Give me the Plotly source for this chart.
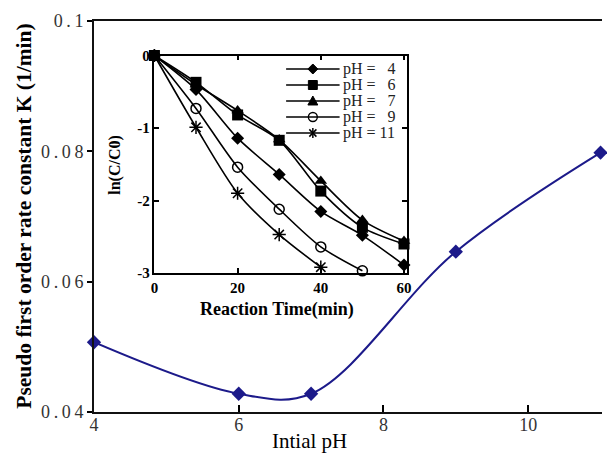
import plotly.graph_objects as go

# Main panel: pseudo first-order rate constant versus initial pH
initial_ph = [4, 6, 7, 9, 11]
rate_k = [0.0507, 0.0428, 0.0428, 0.0646, 0.0798]
k_ticks = [0.04, 0.06, 0.08, 0.1]
k_tick_text = ["0.04", "0.06", "0.08", "0.1"]
ph_ticks = [4, 6, 8, 10]

# Inset: ln(C/C0) versus reaction time for each pH
time_min = [0, 10, 20, 30, 40, 50, 60]
ln_ph4 = [0, -0.47, -1.14, -1.64, -2.15, -2.48, -2.89]
ln_ph6 = [0, -0.37, -0.82, -1.17, -1.87, -2.37, -2.60]
ln_ph7 = [0, -0.40, -0.76, -1.16, -1.73, -2.27, -2.56]
ln_ph9 = [0, -0.73, -1.54, -2.12, -2.64, -2.97]
ln_ph11 = [0, -0.99, -1.90, -2.47, -2.92]
series_names = ["pH = \u00a0\u00a04", "pH = \u00a0\u00a06", "pH = \u00a0\u00a07",
                "pH = \u00a0\u00a09", "pH = 11"]

SERIF = "Liberation Serif, Times New Roman, serif"
NAVY = "#1c1a8a"

W, H = 607, 457
ML, MR, MT, MB = 94, 0, 21, 45
PW, PH = W - ML - MR, H - MT - MB


def fx(px):
    """Pixel column -> paper x."""
    return (px - ML) / PW


def fy(py):
    """Pixel row -> paper y."""
    return (H - MB - py) / PH


def spaced(label):
    return "\u2009".join(label)


fig = go.Figure()

fig.add_trace(go.Scatter(
    x=initial_ph, y=rate_k, mode="lines+markers",
    line=dict(color=NAVY, width=2, shape="spline", smoothing=1.0),
    marker=dict(symbol="diamond", size=11, color=NAVY),
    cliponaxis=False, showlegend=False, xaxis="x", yaxis="y",
))

inset_series = [
    (ln_ph4, dict(symbol="diamond", size=10, color="black")),
    (ln_ph6, dict(symbol="square", size=11, color="black")),
    (ln_ph7, dict(symbol="triangle-up", size=11, color="black")),
    (ln_ph9, dict(symbol="circle-open", size=10, color="black", line=dict(width=1.5))),
    (ln_ph11, dict(symbol="asterisk-open", size=11, color="black", line=dict(width=1.5))),
]
for name, (vals, mk) in zip(series_names, inset_series):
    fig.add_trace(go.Scatter(
        x=time_min[:len(vals)], y=vals, name=name, mode="lines+markers",
        line=dict(color="black", width=1.6, shape="spline", smoothing=0.8),
        marker=mk, cliponaxis=False, showlegend=False, xaxis="x2", yaxis="y2",
    ))

# Legend key drawn in the upper right of the inset: line, symbol, label
shapes = []
annotations = []
key_x0, key_x1, key_mid = 288, 342, 315
row_y = [69, 85, 101, 117, 133]
key_kinds = ["diamond", "square", "triangle", "circle", "asterisk"]
for name, kind, yy in zip(series_names, key_kinds, row_y):
    shapes.append(dict(type="line", xref="paper", yref="paper",
                       x0=fx(key_x0), x1=fx(key_x1), y0=fy(yy), y1=fy(yy),
                       line=dict(color="black", width=1.6)))
    if kind == "diamond":
        pts = [(key_mid, yy - 5), (key_mid + 5, yy), (key_mid, yy + 5), (key_mid - 5, yy)]
        path = "M" + " L".join(f"{fx(a):.5f},{fy(b):.5f}" for a, b in pts) + " Z"
        shapes.append(dict(type="path", xref="paper", yref="paper", path=path,
                           fillcolor="black", line=dict(color="black", width=1)))
    elif kind == "square":
        shapes.append(dict(type="rect", xref="paper", yref="paper",
                           x0=fx(key_mid - 4.5), x1=fx(key_mid + 4.5),
                           y0=fy(yy + 4.5), y1=fy(yy - 4.5),
                           fillcolor="black", line=dict(color="black", width=1)))
    elif kind == "triangle":
        pts = [(key_mid, yy - 5), (key_mid + 5, yy + 4), (key_mid - 5, yy + 4)]
        path = "M" + " L".join(f"{fx(a):.5f},{fy(b):.5f}" for a, b in pts) + " Z"
        shapes.append(dict(type="path", xref="paper", yref="paper", path=path,
                           fillcolor="black", line=dict(color="black", width=1)))
    elif kind == "circle":
        shapes.append(dict(type="circle", xref="paper", yref="paper",
                           x0=fx(key_mid - 4.5), x1=fx(key_mid + 4.5),
                           y0=fy(yy + 4.5), y1=fy(yy - 4.5),
                           fillcolor="rgba(0,0,0,0)", line=dict(color="black", width=1.4)))
    else:
        r, d = 5, 3.6
        segs = [((key_mid, yy - r), (key_mid, yy + r)),
                ((key_mid - d, yy - d), (key_mid + d, yy + d)),
                ((key_mid - d, yy + d), (key_mid + d, yy - d))]
        for (a0, b0), (a1, b1) in segs:
            shapes.append(dict(type="line", xref="paper", yref="paper",
                               x0=fx(a0), x1=fx(a1), y0=fy(b0), y1=fy(b1),
                               line=dict(color="black", width=1.5)))
    annotations.append(dict(text=name, xref="paper", yref="paper",
                            x=fx(key_x1 + 2), y=fy(yy), xanchor="left",
                            yanchor="middle", showarrow=False, borderpad=0,
                            font=dict(size=16, family=SERIF, color="#222")))

annotations += [
    dict(text="Pseudo first order rate constant K (1/min)",
         xref="paper", yref="paper", x=fx(22.5), y=0.5,
         textangle=-90, showarrow=False, xanchor="center", yanchor="middle",
         font=dict(size=21.5, family=SERIF, color="black", weight="bold")),
    dict(text="Intial pH", xref="paper", yref="paper",
         x=fx(312), y=fy(441), showarrow=False, xanchor="center", yanchor="middle",
         font=dict(size=21, family=SERIF, color="black")),
    dict(text="ln(C/C0)", xref="paper", yref="paper",
         x=fx(115), y=fy(165), textangle=-90,
         showarrow=False, xanchor="center", yanchor="middle",
         font=dict(size=16, family=SERIF, color="black", weight="bold")),
    dict(text="Reaction Time(min)", xref="paper", yref="paper",
         x=fx(279), y=fy(309), showarrow=False, xanchor="center", yanchor="middle",
         font=dict(size=18, family=SERIF, color="black", weight="bold")),
]

fig.update_layout(
    width=W, height=H,
    margin=dict(l=ML, r=MR, t=MT, b=MB),
    paper_bgcolor="white", plot_bgcolor="white",
    font=dict(family=SERIF, color="black"),
    showlegend=False,
    xaxis=dict(
        domain=[0, 1], range=[4, 11.02], tickvals=ph_ticks,
        ticks="inside", ticklen=7, tickwidth=1.5, tickcolor="black",
        showline=True, linecolor="#111", linewidth=2, mirror=True,
        showgrid=False, zeroline=False, ticklabelstandoff=-5,
        tickfont=dict(size=18, color="#333"),
    ),
    yaxis=dict(
        domain=[0, 1], range=[0.04, 0.1], tickvals=k_ticks,
        ticktext=[spaced(t) for t in k_tick_text],
        ticks="outside", ticklen=5, tickwidth=1.5, tickcolor="black",
        showline=True, linecolor="#111", linewidth=2,
        showgrid=False, zeroline=False,
        tickfont=dict(size=18, color="#333"),
    ),
    xaxis2=dict(
        domain=[fx(155), fx(410)], range=[0, 60.7], anchor="y2",
        tickvals=[0, 20, 40, 60], ticks="inside", ticklen=5, tickwidth=1.5,
        tickcolor="black", showline=True, linecolor="black", linewidth=1.5,
        mirror="ticks", showgrid=False, zeroline=False,
        tickfont=dict(size=15, color="black", weight="bold"),
    ),
    yaxis2=dict(
        domain=[fy(273), fy(55.5)], range=[-3, 0], anchor="x2",
        tickvals=[0, -1, -2, -3], ticktext=["0", "-1", "-2", "-3"],
        ticks="inside", ticklen=5, tickwidth=1.5,
        tickcolor="black", showline=True, linecolor="black", linewidth=1.5,
        mirror="ticks", showgrid=False, zeroline=False,
        tickfont=dict(size=15, color="black", weight="bold"),
    ),
    shapes=shapes,
    annotations=annotations,
)

fig.write_html("out.html")
